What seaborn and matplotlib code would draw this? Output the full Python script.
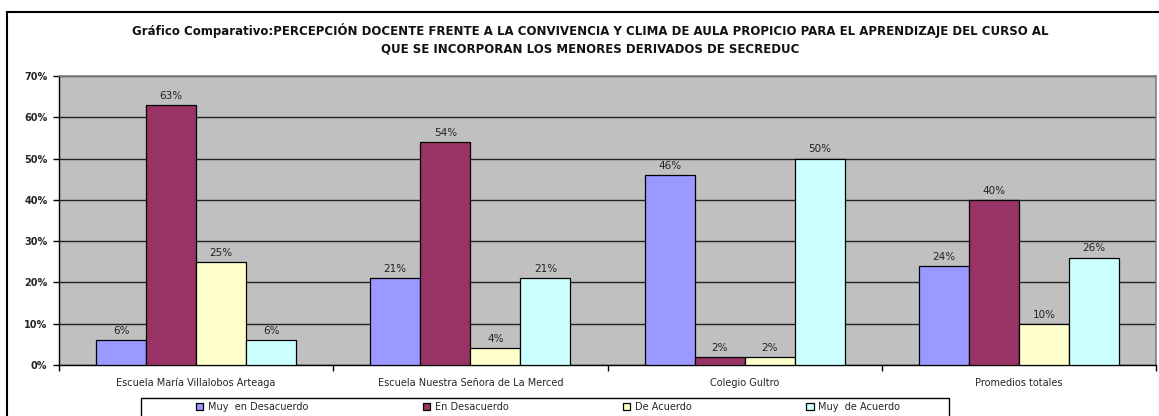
import numpy as np
import pandas as pd
import matplotlib
matplotlib.use("Agg")
import matplotlib.pyplot as plt
from matplotlib.patches import Rectangle
from matplotlib.ticker import FixedLocator, PercentFormatter
import seaborn as sns

# data
escuelas = ["Escuela María Villalobos Arteaga", "Escuela Nuestra Señora de La Merced",
            "Colegio Gultro", "Promedios totales"]
respuestas = ["Muy  en Desacuerdo", "En Desacuerdo", "De Acuerdo", "Muy  de Acuerdo"]
muy_desacuerdo = [6, 21, 46, 24]
desacuerdo = [63, 54, 2, 40]
de_acuerdo = [25, 4, 2, 10]
muy_acuerdo = [6, 21, 50, 26]
colores = ["#9999FF", "#993366", "#FFFFCC", "#CCFFFF"]
titulo = ("Gráfico Comparativo:PERCEPCIÓN DOCENTE FRENTE A LA CONVIVENCIA Y CLIMA DE AULA "
          "PROPICIO PARA EL APRENDIZAJE DEL CURSO AL\nQUE SE INCORPORAN LOS MENORES DERIVADOS DE SECREDUC")

# long table for seaborn
df = pd.DataFrame({
    "escuela": escuelas * 4,
    "respuesta": np.repeat(respuestas, len(escuelas)),
    "valor": muy_desacuerdo + desacuerdo + de_acuerdo + muy_acuerdo,
})

sns.set_theme(style="white")
plt.rcParams["font.family"] = ["DejaVu Sans"]

W, H = 1159, 416
fig = plt.figure(figsize=(W / 100, H / 100), dpi=100)
ax = fig.add_axes([59 / W, 1 - 365 / H, (1156 - 59) / W, (365 - 76) / H])

sns.barplot(data=df, x="escuela", y="valor", hue="respuesta", order=escuelas,
            hue_order=respuestas, palette=colores, width=0.73, saturation=1,
            edgecolor="black", linewidth=0.9, ax=ax, zorder=3)

for cont in ax.containers:
    ax.bar_label(cont, fmt="%d%%", padding=3, fontsize=7.5, color="#222222")

# plot area styling
ax.set_facecolor("#C0C0C0")
ax.set_ylim(0, 70)
ax.set_xlim(-0.5, 3.5)
ax.yaxis.set_major_locator(FixedLocator(np.arange(0, 71, 10)))
ax.yaxis.set_major_formatter(PercentFormatter(decimals=0))
ax.grid(axis="y", color="#222222", linewidth=1, zorder=0)
ax.set_axisbelow(True)
ax.set_xlabel("")
ax.set_ylabel("")

for lado in ["top", "right"]:
    ax.spines[lado].set_color("#808080")
    ax.spines[lado].set_linewidth(1.2)
for lado in ["left", "bottom"]:
    ax.spines[lado].set_color("black")
    ax.spines[lado].set_linewidth(1)

ax.tick_params(axis="y", left=True, length=4.3, width=1, color="black", labelsize=7, pad=4)
for lbl in ax.get_yticklabels():
    lbl.set_fontweight("bold")
ax.tick_params(axis="x", which="major", bottom=False, labelsize=7, pad=3)
ax.set_xticks(np.arange(-0.5, 4, 1), minor=True)
ax.tick_params(axis="x", which="minor", bottom=True, length=4, width=1, color="black")

fig.text(590 / W, 1 - 23 / H, titulo, ha="center", va="top", fontsize=8.5,
         fontweight="bold", linespacing=1.4, color="#111111")

# legend at the bottom, partly cut off like the reference
handles, labels = ax.get_legend_handles_labels()
ax.legend(handles, labels, ncol=4, loc="upper left",
          bbox_to_anchor=(196 / W, 0, (900 - 196) / W, 1 - 402 / H),
          bbox_transform=fig.transFigure, mode="expand", fontsize=7,
          frameon=False, handlelength=0.75, handleheight=0.75, handletextpad=0.45,
          borderaxespad=0, borderpad=0)
fig.add_artist(Rectangle((141 / W, -0.1), (949 - 141) / W, 0.1 + 1 - 398 / H,
                         transform=fig.transFigure, fill=True, facecolor="white",
                         edgecolor="black", linewidth=1, zorder=-1))

# outer chart border
fig.add_artist(Rectangle((7 / W, -0.2), 1.2, 1.2 - 12 / H, transform=fig.transFigure,
                         fill=False, edgecolor="black", linewidth=1.5))

fig.savefig("out.png", dpi=100)
